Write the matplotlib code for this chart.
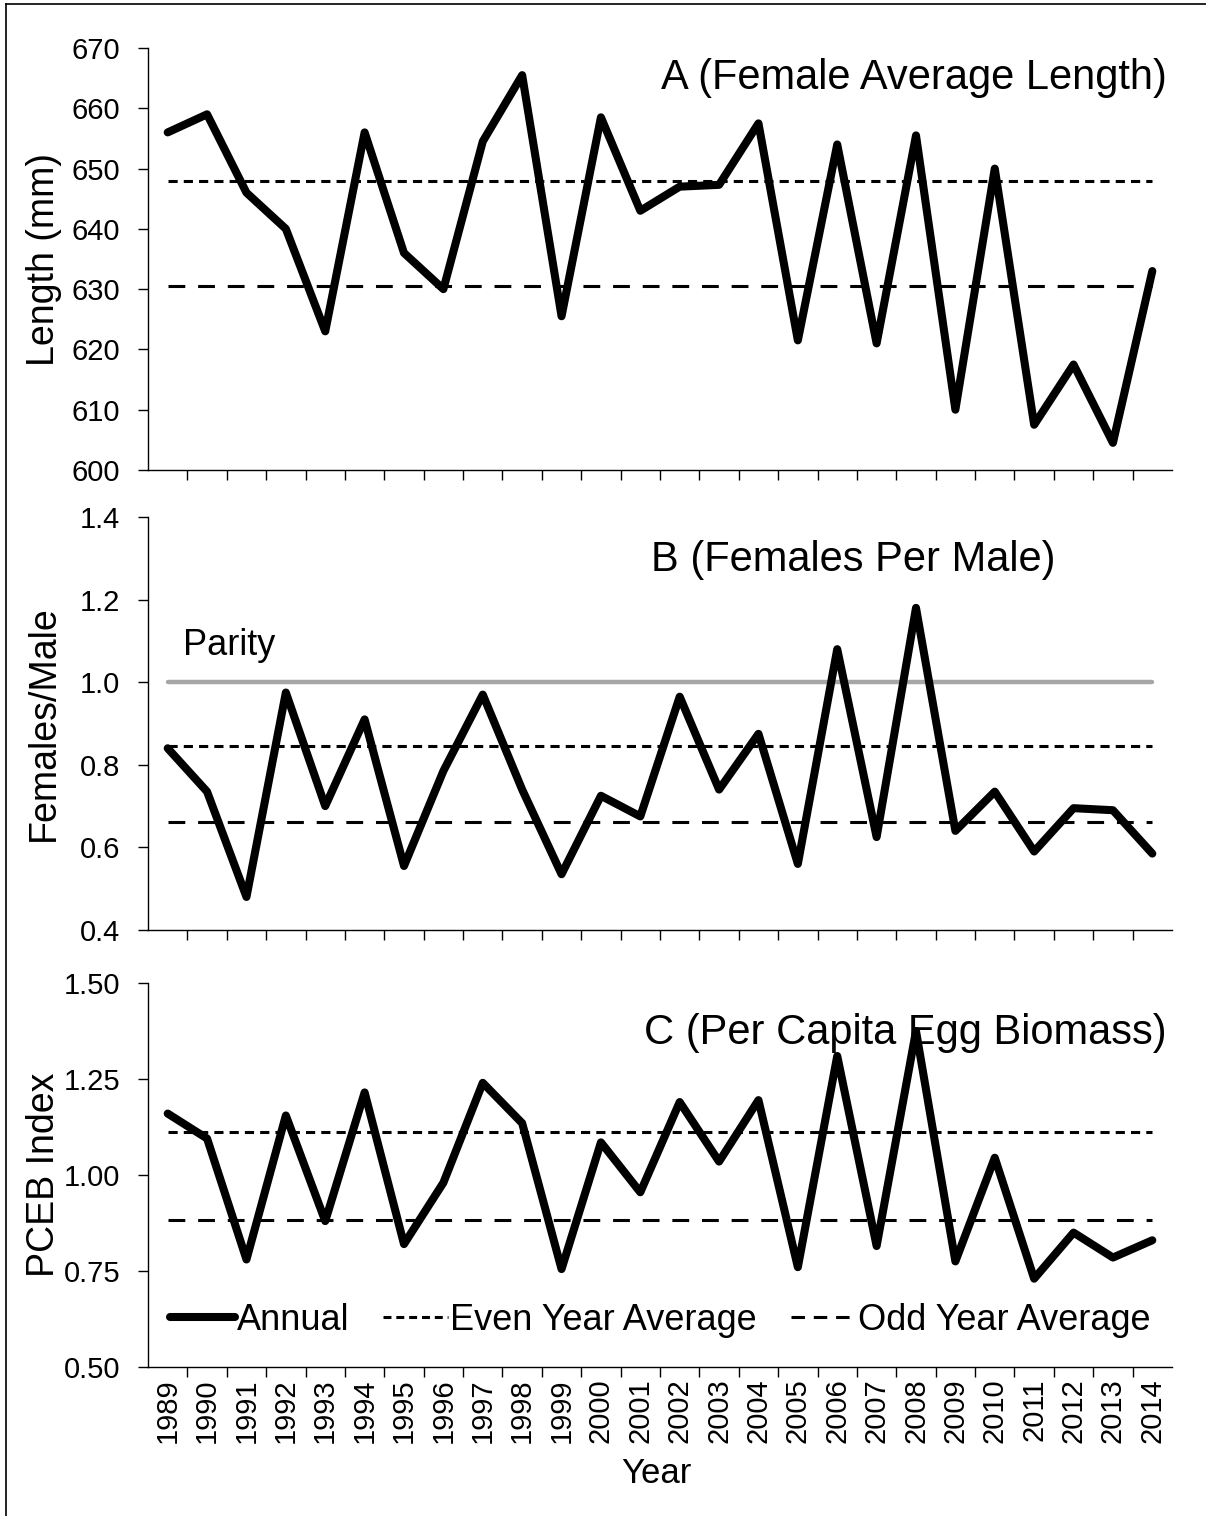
import numpy as np
import matplotlib
matplotlib.use("Agg")
import matplotlib.pyplot as plt
from matplotlib.lines import Line2D

plt.rcParams['font.family'] = ['Liberation Sans', 'DejaVu Sans']

years = list(range(1989, 2015))

length_mm = [656, 659, 646, 640, 623, 656, 636, 630, 654.5, 665.5, 625.5, 658.5, 643,
             647, 647.3, 657.5, 621.5, 654, 621, 655.5, 610, 650, 607.5, 617.5, 604.5, 633]

females_per_male = [0.84, 0.735, 0.48, 0.975, 0.70, 0.91, 0.555, 0.785, 0.97, 0.74, 0.535,
                    0.725, 0.675, 0.965, 0.74, 0.875, 0.56, 1.08, 0.625, 1.18, 0.64, 0.735,
                    0.59, 0.695, 0.69, 0.585]

pceb_index = [1.16, 1.095, 0.78, 1.155, 0.88, 1.215, 0.82, 0.98, 1.24, 1.135, 0.755, 1.085,
              0.955, 1.19, 1.035, 1.195, 0.76, 1.31, 0.815, 1.375, 0.775, 1.045, 0.73, 0.85,
              0.785, 0.83]

panel_titles = ["A (Female Average Length)", "B (Females Per Male)", "C (Per Capita Egg Biomass)"]
y_labels = ["Length (mm)", "Females/Male", "PCEB Index"]
legend_labels = ["Annual", "Even Year Average", "Odd Year Average"]
parity_level = 1.0

W, H = 1206, 1516
fig = plt.figure(figsize=(W / 100, H / 100), dpi=100)

# outer frame
fig.add_artist(Line2D([6 / W, 6 / W], [0, 1 - 4 / H], color='black', lw=1.2, transform=fig.transFigure))
fig.add_artist(Line2D([6 / W, 1], [1 - 4 / H, 1 - 4 / H], color='black', lw=1.2, transform=fig.transFigure))

left = 148 / W
width = 1024 / W
boxes = [(48, 470), (517, 930), (983, 1367)]
axes = []
for top, bot in boxes:
    ax = fig.add_axes([left, 1 - bot / H, width, (bot - top) / H])
    axes.append(ax)

series = [length_mm, females_per_male, pceb_index]
ylims = [(600, 670), (0.4, 1.4), (0.5, 1.5)]
yticks = [np.arange(600, 671, 10), np.arange(0.4, 1.41, 0.2), np.arange(0.5, 1.51, 0.25)]
yfmt = ["{:.0f}", "{:.1f}", "{:.2f}"]
title_pos = [(0.995, 0.93), (0.886, 0.895), (0.995, 0.87)]

yrs = np.array(years)
even_dash = (3.0, 2.0)
odd_dash = (5.5, 4.2)

for i, ax in enumerate(axes):
    vals = np.array(series[i])
    even_avg = vals[yrs % 2 == 0].mean()
    odd_avg = vals[yrs % 2 == 1].mean()

    if i == 1:
        ax.plot([years[0], years[-1]], [parity_level, parity_level], color='#a6a6a6',
                lw=3.2, solid_capstyle='round', zorder=1)
        ax.text(1989.4, 1.09, "Parity", fontsize=26, ha='left', va='center')

    ax.plot([years[0], years[-1]], [even_avg, even_avg], color='black', lw=2.2,
            dashes=even_dash, zorder=2)
    ax.plot([years[0], years[-1]], [odd_avg, odd_avg], color='black', lw=2.2,
            dashes=odd_dash, zorder=2)
    ax.plot(years, vals, color='black', lw=5.8, solid_joinstyle='round',
            solid_capstyle='round', zorder=3)

    ax.set_xlim(1988.5, 2014.5)
    ax.set_ylim(*ylims[i])
    ax.set_yticks(yticks[i])
    ax.set_yticklabels([yfmt[i].format(v) for v in yticks[i]])
    ax.set_xticks(years)
    ax.set_xticks(np.arange(1989.5, 2014.0, 1.0), minor=True)
    ax.tick_params(axis='x', which='major', length=0, pad=8, labelsize=21)
    ax.tick_params(axis='x', which='minor', length=7, width=1.0, direction='out')
    ax.tick_params(axis='y', which='major', length=7, width=1.0, direction='out',
                   pad=13, labelsize=21)
    if i < 2:
        ax.set_xticklabels([])
    else:
        ax.set_xticklabels([str(y) for y in years], rotation=90)

    for s in ['top', 'right']:
        ax.spines[s].set_visible(False)
    for s in ['left', 'bottom']:
        ax.spines[s].set_linewidth(1.0)

    ax.set_ylabel(y_labels[i], fontsize=27)
    ax.yaxis.set_label_coords(-0.084, 0.5)

    ax.text(title_pos[i][0], title_pos[i][1], panel_titles[i], transform=ax.transAxes,
            ha='right', va='center', fontsize=30)

axC = axes[2]
axC.set_xlabel("Year", fontsize=25)
axC.xaxis.set_label_coords(0.496, -0.235)

# legend keys
handles = [
    Line2D([], [], color='black', lw=5.8, solid_capstyle='round'),
    Line2D([], [], color='black', lw=2.2, dashes=(2.6, 1.6)),
    Line2D([], [], color='black', lw=2.2, dashes=(4.4, 2.9)),
]
axC.legend(handles, legend_labels, loc='center',
           bbox_to_anchor=(0.5, 0.122), ncol=3, frameon=False, fontsize=26,
           handlelength=1.8, handletextpad=0.05, columnspacing=0.95, borderaxespad=0)

fig.savefig("out.png", dpi=100, facecolor='white')
